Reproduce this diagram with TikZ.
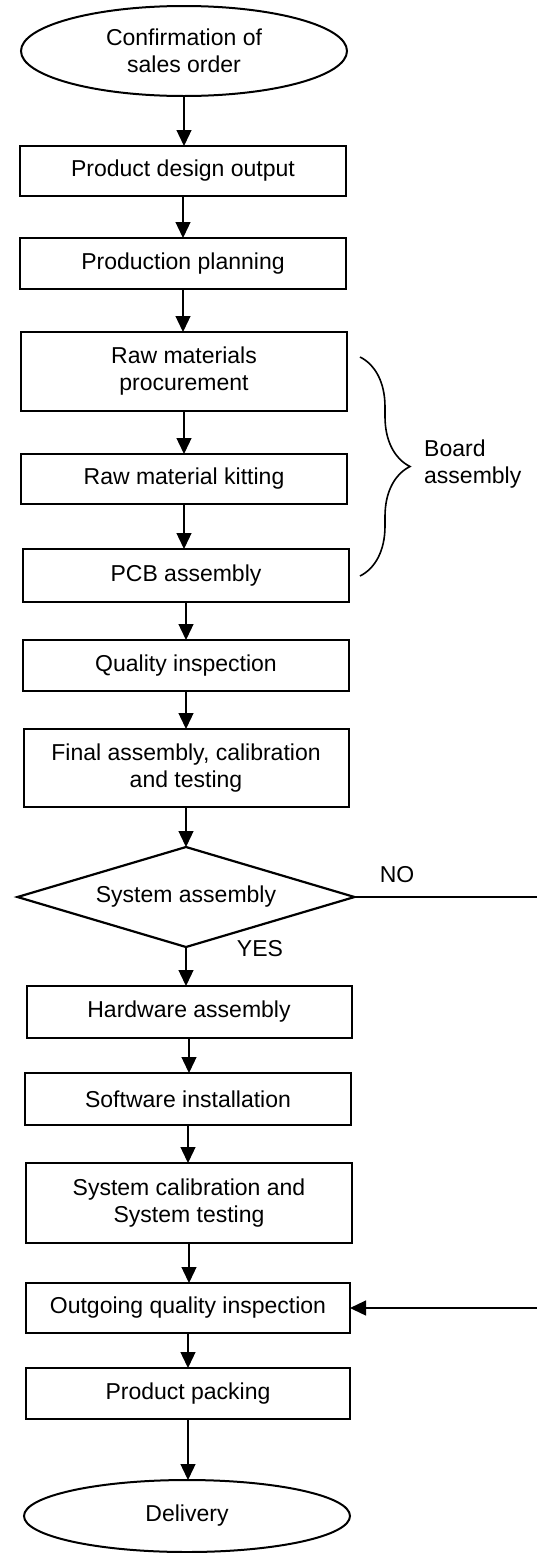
\documentclass[tikz,border=0pt]{standalone}
\usepackage{fontspec}
\setmainfont{Liberation Sans}
\usetikzlibrary{arrows.meta,shapes.geometric,decorations.pathreplacing}
\begin{document}
\begin{tikzpicture}[x=1pt,y=-1pt,
  txt/.style={font=\fontsize{23}{27}\selectfont},
  box/.style={txt,draw,line width=2pt,inner sep=0pt,outer sep=0pt,align=center,minimum width=326pt},
  term/.style={txt,draw,ellipse,line width=2pt,inner sep=0pt,outer sep=0pt,align=center,minimum width=326pt},
  decision/.style={txt,draw,diamond,aspect=3.37,line width=2.2pt,inner sep=0pt,outer sep=0pt,align=center,minimum width=337pt,minimum height=100pt},
  flow/.style={line width=1.3pt,-{Triangle[width=15pt,length=16pt]}},
  plain/.style={line width=1.3pt}
]
\useasboundingbox (0,0) rectangle (537,1553);
\fill[white] (0,0) rectangle (537,1553);

\node[term,minimum height=90pt] (start) at (184,51) {Confirmation of\\sales order};
\node[box,minimum height=50pt] (pdo) at (183,171) {Product design output};
\node[box,minimum height=51pt] (pp) at (183,263.5) {Production planning};
\node[box,minimum height=79pt] (rmp) at (184,371.5) {Raw materials\\procurement};
\node[box,minimum height=50pt] (rmk) at (184,479) {Raw material kitting};
\node[box,minimum height=53pt] (pcb) at (186,575.5) {PCB assembly};
\node[box,minimum height=51pt] (qi) at (186,665.5) {Quality inspection};
\node[box,minimum height=78pt,minimum width=325pt] (fa) at (186,768) {Final assembly, calibration\\and testing};
\node[decision] (sys) at (186,897) {System assembly};
\node[box,minimum height=52pt,minimum width=325pt] (hw) at (189,1012) {Hardware assembly};
\node[box,minimum height=52pt] (sw) at (188,1099) {Software installation};
\node[box,minimum height=80pt] (sc) at (189,1203) {System calibration and\\System testing};
\node[box,minimum height=50pt,minimum width=324pt] (oq) at (188,1308) {Outgoing quality inspection};
\node[box,minimum height=51pt,minimum width=324pt] (pk) at (188,1393.5) {Product packing};
\node[term,minimum height=72pt] (del) at (187,1516) {Delivery};

\node[txt,align=left,anchor=west,inner sep=0pt] (board) at (424,464) {Board\\assembly};
\node[txt,inner sep=0pt] (no) at (397,875) {NO};
\node[txt,inner sep=0pt] (yes) at (260,949) {YES};

\coordinate (noend) at (537,897);
\coordinate (back) at (537,1308);
\coordinate (bt) at (360,357);
\coordinate (bb) at (360,576);

\draw[flow] (start.south) -- (start.south |- pdo.north);
\draw[flow] (pdo.south) -- (pdo.south |- pp.north);
\draw[flow] (pp.south) -- (pp.south |- rmp.north);
\draw[flow] (rmp.south) -- (rmp.south |- rmk.north);
\draw[flow] (rmk.south) -- (rmk.south |- pcb.north);
\draw[flow] (pcb.south) -- (pcb.south |- qi.north);
\draw[flow] (qi.south) -- (qi.south |- fa.north);
\draw[flow] (fa.south) -- (fa.south |- sys.north);
\draw[flow] (sys.south) -- (sys.south |- hw.north);
\draw[flow] (hw.south) -- (hw.south |- sw.north);
\draw[flow] (sw.south) -- (sw.south |- sc.north);
\draw[flow] (sc.south) -- (sc.south |- oq.north);
\draw[flow] (oq.south) -- (oq.south |- pk.north);
\draw[flow] (pk.south) -- (pk.south |- del.north);
\draw[plain] (sys.east) -- (noend);
\draw[flow] (back) -- (oq.east);

\draw[line width=1.6pt,decorate,decoration={brace,amplitude=50pt}] (bt) -- (bb);
\end{tikzpicture}
\end{document}
